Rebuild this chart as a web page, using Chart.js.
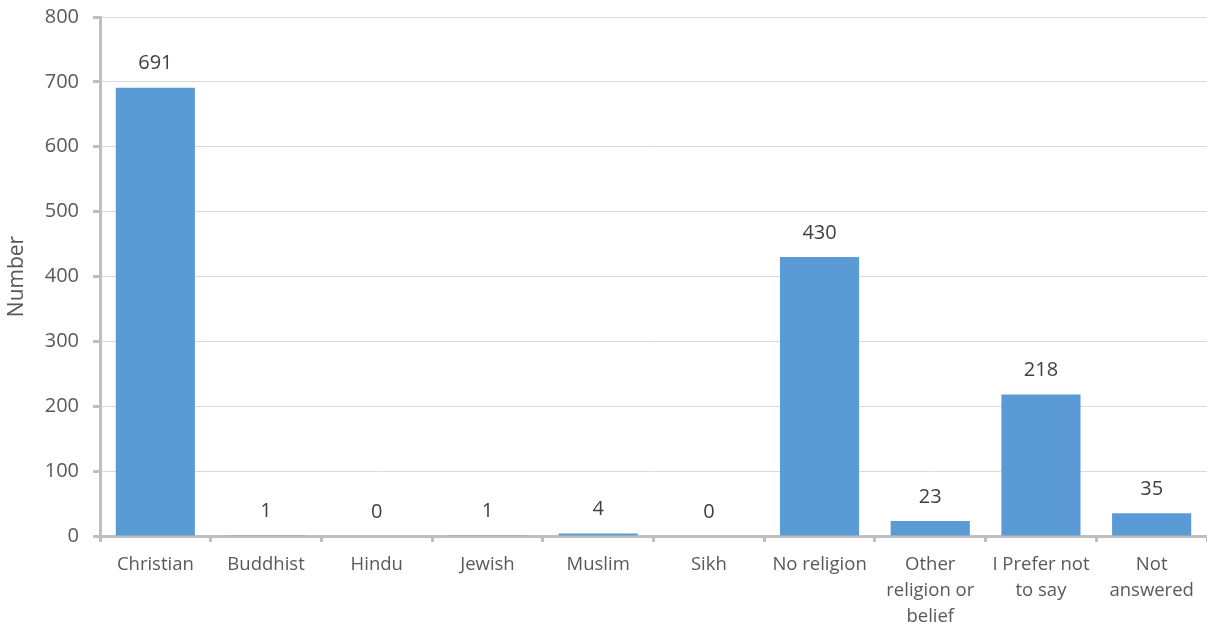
<!DOCTYPE html>
<html>
<head>
<meta charset="utf-8">
<script src="https://cdn.jsdelivr.net/npm/chart.js@4"></script>
<style>
  html, body { margin: 0; padding: 0; background: #fff; }
  #wrap { width: 1207px; height: 625px; }
</style>
</head>
<body>
<div id="wrap"><canvas id="chart" width="1207" height="625"></canvas></div>
<script>
const categories = [
  "Christian", "Buddhist", "Hindu", "Jewish", "Muslim", "Sikh",
  "No religion", ["Other", "religion or", "belief"], ["I Prefer not", "to say"], ["Not", "answered"]
];
const counts = [691, 1, 0, 1, 4, 0, 430, 23, 218, 35];
const yTicks = [0, 100, 200, 300, 400, 500, 600, 700, 800];

const FONT = "'Open Sans', Lato, sans-serif";

// value labels above each bar
const barLabels = {
  id: "barLabels",
  afterDatasetsDraw(chart) {
    const ctx = chart.ctx;
    const meta = chart.getDatasetMeta(0);
    ctx.save();
    ctx.fillStyle = "#404040";
    ctx.font = "20px " + FONT;
    ctx.textAlign = "center";
    ctx.textBaseline = "middle";
    meta.data.forEach((bar, i) => {
      ctx.fillText(String(counts[i]), bar.x, bar.y - 24);
    });
    ctx.restore();
  }
};

new Chart(document.getElementById("chart"), {
  type: "bar",
  data: {
    labels: categories,
    datasets: [{
      label: "Number",
      data: counts,
      backgroundColor: "#5B9BD5",
      borderWidth: 0,
      categoryPercentage: 1,
      barPercentage: 0.715
    }]
  },
  options: {
    responsive: false,
    animation: false,
    layout: { padding: { top: 17, right: 0, left: 0, bottom: 0 } },
    plugins: {
      legend: { display: false },
      tooltip: { enabled: false }
    },
    scales: {
      x: {
        border: { color: "#BFBFBF", width: 3 },
        grid: {
          offset: true,
          drawOnChartArea: false,
          drawTicks: true,
          tickLength: 6,
          tickColor: "#BFBFBF",
          tickWidth: 3
        },
        ticks: {
          color: "#595959",
          font: { family: FONT, size: 18.5, lineHeight: 1.4 },
          padding: 10,
          maxRotation: 0,
          autoSkip: false
        },
        afterFit(scale) { scale.height = 89; }
      },
      y: {
        min: 0,
        max: 800,
        afterBuildTicks(scale) { scale.ticks = yTicks.map(v => ({ value: v })); },
        border: { color: "#BFBFBF", width: 3 },
        grid: {
          color: "#D9D9D9",
          lineWidth: 1,
          drawTicks: true,
          tickLength: 7,
          tickColor: "#BFBFBF",
          tickWidth: 3
        },
        ticks: {
          color: "#595959",
          font: { family: FONT, size: 20 },
          padding: 14
        },
        title: {
          display: true,
          text: "Number",
          color: "#595959",
          font: { family: FONT, size: 21 },
          padding: { top: 4, bottom: 0 }
        },
        afterFit(scale) {
          scale.width = 100;
          scale.paddingTop = 0;
        }
      }
    }
  },
  plugins: [barLabels]
});
</script>
</body>
</html>
